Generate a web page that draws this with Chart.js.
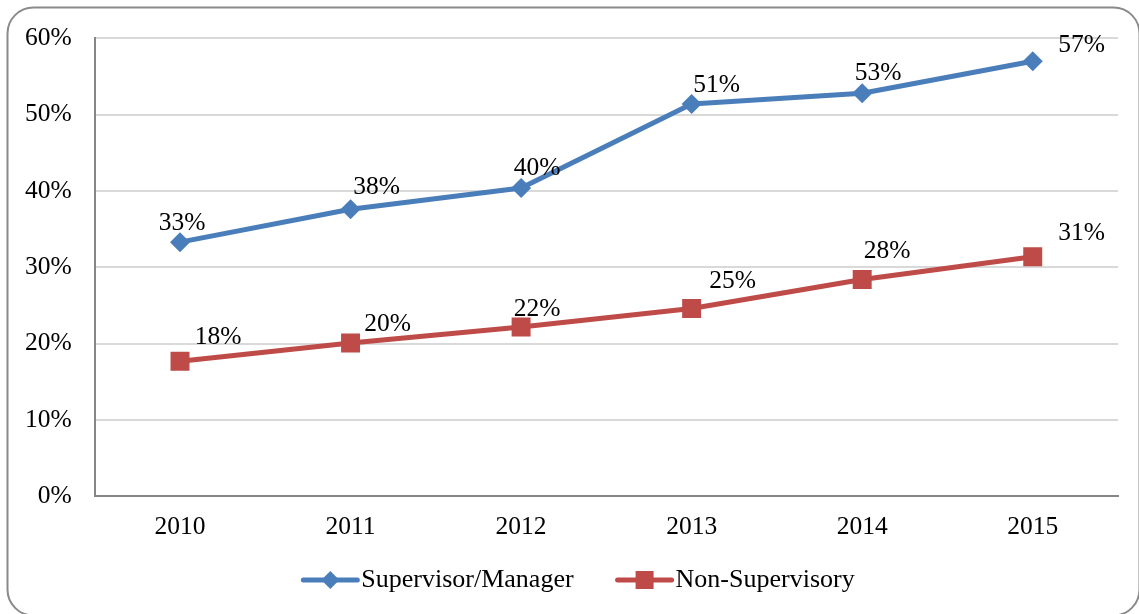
<!DOCTYPE html>
<html><head><meta charset="utf-8">
<script src="https://cdn.jsdelivr.net/npm/chart.js@4.4.1/dist/chart.umd.min.js"></script>
<style>html,body{margin:0;padding:0;background:#fff}#wrap{width:1139px;height:614px;position:relative}</style>
</head><body><div id="wrap"><canvas id="c"></canvas></div>
<script>
const categories = ['2010', '2011', '2012', '2013', '2014', '2015'];
const supervisorValues = [33.3, 37.6, 40.4, 51.4, 52.8, 57.0];
const nonSupervisoryValues = [17.7, 20.1, 22.2, 24.6, 28.4, 31.4];
const supervisorLabels = ['33%', '38%', '40%', '51%', '53%', '57%'];
const nonSupervisoryLabels = ['18%', '20%', '22%', '25%', '28%', '31%'];
const seriesNames = ['Supervisor/Manager', 'Non-Supervisory'];
const yTicks = [0, 10, 20, 30, 40, 50, 60];

const BLUE = '#4A7EBB';
const RED = '#BE4B48';
const FONT = '"Liberation Serif", "Times New Roman", serif';

const frame = {
  id: 'frame',
  beforeDraw(chart) {
    const ctx = chart.ctx;
    ctx.save();
    ctx.fillStyle = '#fff';
    ctx.fillRect(0, 0, chart.width, chart.height);
    ctx.strokeStyle = '#8a8a8a';
    ctx.lineWidth = 2;
    ctx.beginPath();
    ctx.roundRect(7.5, 7.5, 1132, 608, 26);
    ctx.stroke();
    ctx.restore();
  }
};

const pointLabels = {
  id: 'pointLabels',
  afterDatasetsDraw(chart, args, opts) {
    const ctx = chart.ctx;
    ctx.save();
    ctx.font = '25.5px ' + FONT;
    ctx.fillStyle = '#000';
    ctx.textAlign = 'center';
    ctx.textBaseline = 'middle';
    chart.data.datasets.forEach((ds, i) => {
      const meta = chart.getDatasetMeta(i);
      meta.data.forEach((pt, j) => {
        const o = opts.offsets[i][j];
        ctx.fillText(ds.valueLabels[j], pt.x + o[0], pt.y + o[1]);
      });
    });
    ctx.restore();
  }
};

// Legend drawn as line + marker + text, centred under the chart
const lineLegend = {
  id: 'lineLegend',
  afterDraw(chart, args, opts) {
    const ctx = chart.ctx;
    ctx.save();
    ctx.font = opts.fontSize + 'px ' + FONT;
    const items = chart.data.datasets.map(ds => ({
      ds, tw: ctx.measureText(ds.label).width
    }));
    const symW = opts.symbolWidth, gap = opts.textGap, spacing = opts.itemSpacing;
    let total = items.reduce((s, it) => s + symW + gap + it.tw, 0) + spacing * (items.length - 1);
    let x = opts.centerX - total / 2;
    const y = opts.centerY;
    items.forEach(it => {
      const ds = it.ds;
      ctx.strokeStyle = ds.borderColor;
      ctx.lineWidth = 5;
      ctx.lineCap = 'round';
      ctx.beginPath(); ctx.moveTo(x + 2, y); ctx.lineTo(x + symW - 2, y); ctx.stroke();
      ctx.fillStyle = ds.borderColor;
      const cx = x + symW / 2;
      ctx.beginPath();
      if (ds.pointStyle === 'rectRot') {
        ctx.moveTo(cx, y - 9); ctx.lineTo(cx + 9, y); ctx.lineTo(cx, y + 9); ctx.lineTo(cx - 9, y);
        ctx.closePath();
      } else {
        ctx.rect(cx - 9, y - 9, 18, 18);
      }
      ctx.fill();
      ctx.fillStyle = '#000';
      ctx.textAlign = 'left';
      ctx.textBaseline = 'middle';
      ctx.fillText(ds.label, x + symW + gap, y);
      x += symW + gap + it.tw + spacing;
    });
    ctx.restore();
  }
};

new Chart(document.getElementById('c'), {
  type: 'line',
  data: {
    labels: categories,
    datasets: [
      {
        label: seriesNames[0], data: supervisorValues, valueLabels: supervisorLabels,
        borderColor: BLUE, backgroundColor: BLUE, borderWidth: 5,
        pointStyle: 'rectRot', pointRadius: 10, pointHoverRadius: 10,
        pointBorderWidth: 0, tension: 0, borderJoinStyle: 'round', borderCapStyle: 'round'
      },
      {
        label: seriesNames[1], data: nonSupervisoryValues, valueLabels: nonSupervisoryLabels,
        borderColor: RED, backgroundColor: RED, borderWidth: 5,
        pointStyle: 'rect', pointRadius: 13.4, pointHoverRadius: 13.4,
        pointBorderWidth: 0, tension: 0, borderJoinStyle: 'round', borderCapStyle: 'round'
      }
    ]
  },
  plugins: [frame, pointLabels, lineLegend],
  options: {
    responsive: true,
    maintainAspectRatio: false,
    animation: false,
    layout: { padding: { top: 26, left: 2, right: 21, bottom: 55 } },
    scales: {
      x: {
        offset: true,
        grid: { display: false, drawTicks: false },
        border: { color: '#868686', width: 2 },
        ticks: { color: '#000', font: { family: FONT, size: 25.5 }, padding: 16 }
      },
      y: {
        min: 0, max: 60,
        afterBuildTicks(axis) { axis.ticks = yTicks.map(v => ({ value: v })); },
        grid: { color: '#d9d9d9', lineWidth: 2, drawTicks: false },
        border: { color: '#868686', width: 2 },
        ticks: { color: '#000', font: { family: FONT, size: 25.5 }, padding: 23,
                 callback: v => v + '%' }
      }
    },
    plugins: {
      tooltip: { enabled: false },
      legend: { display: false },
      lineLegend: { fontSize: 26, symbolWidth: 58, textGap: 2, itemSpacing: 42, centerX: 578, centerY: 580 },
      pointLabels: {
        offsets: [
          [[2, -19], [26, -22], [16, -20], [25, -19], [16, -20], [49, -16]],
          [[38, -24], [37, -19], [16, -18], [41, -27], [25, -28], [49, -23]]
        ]
      }
    }
  }
});
</script>
</body></html>
